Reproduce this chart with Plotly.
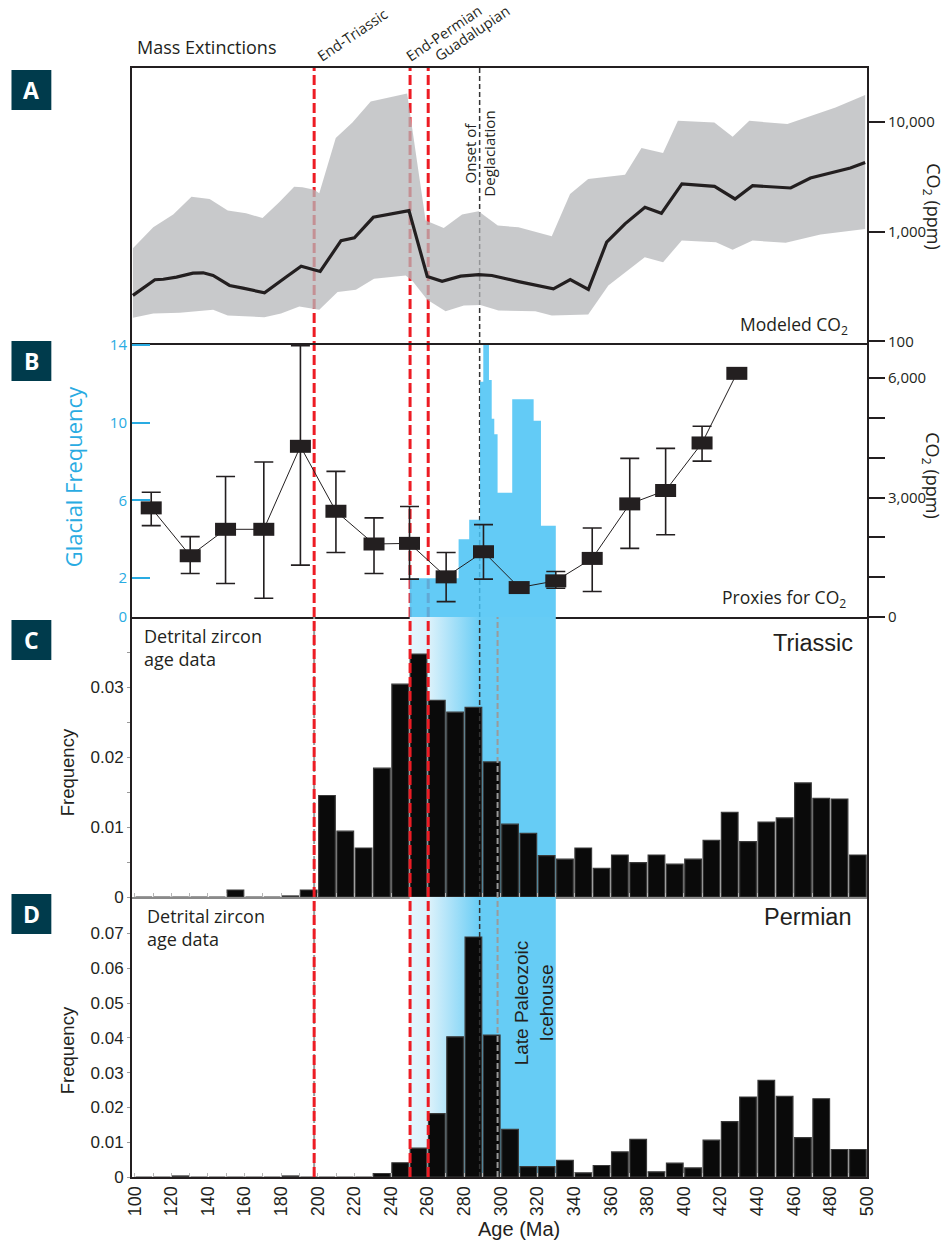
import numpy as np
import plotly.graph_objects as go

# ---------------- data ----------------
# Panel A: modeled CO2 (ppm), central estimate and uncertainty envelope
model_age = [99, 111, 115.6, 122.8, 131.8, 137.4, 142.8, 151.8, 159.1, 170.9, 182.7, 190.9, 201.3,
             212.7, 220.0, 230.3, 249.8, 259.8, 267.9, 278.0, 287.9, 295.1, 309.7, 328.7, 337.9,
             347.8, 357.8, 367.8, 378.7, 387.7, 398.9, 416.7, 427.9, 437.5, 458.3, 469.1, 490.9, 499]
model_co2 = [262, 364, 368, 385, 418, 421, 398, 323, 305, 277, 385, 484, 433,
             828, 877, 1349, 1552, 390, 353, 393, 406, 398, 350, 301, 366,
             297, 800, 1175, 1663, 1466, 2716, 2582, 1982, 2618, 2495, 3076, 3793, 4266]

band_hi_age = [99, 110.1, 121.0, 131.0, 140.9, 150.8, 160.8, 169.8, 178.9, 187.1, 191.6, 198.0, 200.8,
               209.8, 218.9, 228.9, 248.8, 258.9, 268.8, 278.8, 287.8, 298.3, 309.6, 327.8, 337.8,
               347.7, 367.8, 376.8, 388.6, 396.7, 416.6, 426.6, 435.7, 456.5, 482.8, 499]
band_hi_co2 = [705, 1094, 1429, 2080, 1982, 1552, 1466, 1330, 1849, 2564, 2529, 2400, 2230,
               7112, 9863, 15311, 18072, 1259, 1079, 1429, 1531, 1135, 1094, 906, 2198,
               3013, 3296, 5768, 5188, 10209, 9863, 7311, 10209, 9528, 13490, 17580]
band_lo_age = [99, 110.1, 124.6, 142.8, 150.8, 170.8, 179.9, 189.9, 200.8, 210.8, 220.8, 230.7,
               248.0, 251.5, 259.8, 269.8, 279.8, 288.8, 298.7, 318.8, 327.8, 347.7, 358.7,
               378.6, 388.6, 398.8, 417.5, 426.6, 437.5, 455.6, 474.6, 499]
band_lo_co2 = [164, 179, 182, 194, 172, 166, 179, 208, 194, 281, 295, 372,
               398, 359, 239, 188, 212, 214, 191, 188, 172, 176, 323,
               583, 526, 828, 800, 682, 828, 789, 940, 1057]

# Panel B: glacial frequency (step histogram) and CO2 proxies
glacial_edges = [250.2, 276.9, 282.7, 288.6, 290.4, 293.5, 295.0, 296.4, 298.2, 306.2, 317.9, 321.9, 330.0]
glacial_freq = [2.0, 4.0, 5.0, 12.1, 14.0, 12.2, 10.2, 9.4, 6.4, 11.2, 10.1, 4.7]

proxy_age = [109.0, 130.3, 149.6, 170.5, 190.5, 209.9, 230.7, 250.1, 270.1, 290.5, 310.0,
             330.0, 349.9, 370.4, 390.0, 409.9, 428.9]
proxy_co2 = [2740, 1538, 2202, 2202, 4286, 2655, 1833, 1849, 1008, 1639, 739,
             908, 1471, 2840, 3176, 4370, 6118]
proxy_hi = [3134, 2017, 3529, 3891, 6815, 3656, 2488, 2773, 1621, 2319, None,
            1143, 2235, 3983, 4235, 4790, None]
proxy_lo = [2294, 1092, 840, 471, 1303, 1621, 1092, 950, 386, 950, None,
            723, 639, 1723, 2067, 3915, None]

# Panels C and D: detrital zircon age frequencies, 10 Myr bins from 100 to 500 Ma
bin_edges = list(range(100, 510, 10))
triassic_freq = [0, 0, 0, 0, 0, 0.001, 0, 0, 0.00015, 0.001,
                 0.0145, 0.0094, 0.0070, 0.0184, 0.0304, 0.0347, 0.0281, 0.0264, 0.0271, 0.0193,
                 0.0104, 0.0091, 0.0059, 0.0054, 0.0070, 0.0041, 0.0060, 0.0049, 0.0060, 0.0047,
                 0.0054, 0.0081, 0.0121, 0.0079, 0.0107, 0.0113, 0.0163, 0.0141, 0.0140, 0.0060]
permian_freq = [0, 0, 0.0003, 0, 0, 0, 0, 0, 0.0003, 0,
                0, 0, 0, 0.0010, 0.0041, 0.0083, 0.0182, 0.0403, 0.0690, 0.0408,
                0.0137, 0.0030, 0.0030, 0.0048, 0.0012, 0.0033, 0.0072, 0.0108, 0.0015, 0.0040,
                0.0026, 0.0106, 0.0159, 0.0230, 0.0278, 0.0232, 0.0113, 0.0225, 0.0079, 0.0079]

# Events (Ma)
extinctions = {"End-Triassic": 198.0, "End-Permian": 250.4, "Guadalupian": 260.3}
onset_deglaciation = 288.4
grey_markers = [198.0, 298.2]
icehouse = (250.2, 330.0)

x_ticks = list(range(100, 510, 10))
x_labels = [str(v) if v % 20 == 0 else "" for v in x_ticks]

# ---------------- styling helpers ----------------
INK = "#231f20"
BLUE = "#29abe2"
RED = "#ed1c24"
MY = "Open Sans"
AR = "Liberation Sans"
L, R, T, B = 132, 870, 68, 1177


def fx(p):
    return (p - L) / (R - L)


def fy(p):
    return (B - p) / (B - T)


dA = [fy(343), 1.0]
dB = [fy(617), fy(343)]
dC = [fy(897), fy(617)]
dD = [0.0, fy(897)]

fig = go.Figure()

# Panel A
band_x = band_hi_age + band_lo_age[::-1]
band_y = band_hi_co2 + band_lo_co2[::-1]
fig.add_trace(go.Scatter(x=band_x, y=band_y, xaxis="x", yaxis="y", mode="lines",
                         fill="toself", fillcolor="rgba(182,183,186,0.75)",
                         line=dict(width=0), hoverinfo="skip"))
fig.add_trace(go.Scatter(x=model_age, y=model_co2, xaxis="x", yaxis="y", mode="lines",
                         line=dict(color=INK, width=3.2), hoverinfo="skip"))

# Panel B
fig.add_trace(go.Scatter(x=glacial_edges, y=glacial_freq + [glacial_freq[-1]], xaxis="x2", yaxis="y2",
                         mode="lines", line=dict(width=0, shape="hv"), fill="tozeroy",
                         fillcolor="rgba(72,194,244,0.85)", hoverinfo="skip"))
err_plus = [(h - c) if h is not None else 0 for h, c in zip(proxy_hi, proxy_co2)]
err_minus = [(c - l) if l is not None else 0 for l, c in zip(proxy_lo, proxy_co2)]
fig.add_trace(go.Scatter(x=proxy_age, y=proxy_co2, xaxis="x2", yaxis="y3", mode="lines",
                         line=dict(color=INK, width=1),
                         error_y=dict(type="data", array=err_plus, arrayminus=err_minus,
                                      color=INK, thickness=1.6, width=9.5),
                         hoverinfo="skip"))
fig.add_trace(go.Scatter(x=proxy_age, y=proxy_co2, xaxis="x2", yaxis="y3", mode="markers",
                         marker=dict(symbol="line-ew", size=15, color=INK,
                                     line=dict(color=INK, width=13)),
                         hoverinfo="skip"))

# Panels C and D: gradient icehouse band on the base axes, bars on overlaying axes above it
centers = (np.array(bin_edges[:-1]) + np.array(bin_edges[1:])) / 2.0
grad = dict(type="horizontal", start=icehouse[0], stop=icehouse[1],
            colorscale=[[0.0, "#e3f5fd"], [0.13, "#daf1fb"], [0.48, "#66ccf5"], [1.0, "#66ccf5"]])
for xa, ya, yb, top, freq in (("x3", "y4", "y6", 0.04, triassic_freq),
                              ("x4", "y5", "y7", 0.0805, permian_freq)):
    fig.add_trace(go.Scatter(x=[icehouse[0], icehouse[1], icehouse[1], icehouse[0], icehouse[0]],
                             y=[0, 0, top, top, 0], xaxis=xa, yaxis=ya, mode="lines",
                             fill="toself", fillgradient=grad, line=dict(width=0), hoverinfo="skip"))
    fig.add_trace(go.Bar(x=centers, y=freq, width=9.1, xaxis=xa, yaxis=yb,
                         marker=dict(color="#0a0a0a", line=dict(color="#3a3a3a", width=1.2)),
                         hoverinfo="skip"))

# ---------------- shapes ----------------
shapes = []


def vline(x, y0, y1, color, width, dash, layer):
    shapes.append(dict(type="line", xref="x", yref="paper", x0=x, x1=x, y0=y0, y1=y1,
                       line=dict(color=color, width=width, dash=dash), layer=layer))


for g in grey_markers:
    vline(g, 0, dC[1], "#9a9a9a", 2, "6px,3px", "above")
vline(onset_deglaciation, dC[1], 1, "#333333", 1.5, "5px,3px", "below")
vline(onset_deglaciation, 0, dC[1], "#333333", 1.5, "5px,3px", "above")
for name, xv in extinctions.items():
    vline(xv, dC[1], 1, RED, 3, "10px,4px", "below")
    vline(xv, 0, dC[1], RED, 3, "10px,4px", "above")

badges = [("A", 70), ("B", 341), ("C", 620), ("D", 894)]
annotations = []
for letter, top in badges:
    shapes.append(dict(type="rect", xref="paper", yref="paper", x0=fx(11), x1=fx(51),
                       y0=fy(top + 40), y1=fy(top), fillcolor="#003b4c", line=dict(width=0),
                       layer="above"))
    annotations.append(dict(text=letter, xref="paper", yref="paper", x=fx(31), y=fy(top + 20),
                            showarrow=False, font=dict(family=MY, size=23, color="white", weight="bold"),
                            xanchor="center", yanchor="middle"))


def ann(text, xp, yp, size=16, family=MY, color=INK, xanchor="center", yanchor="middle",
        angle=0, xref="paper", xval=None, align="center"):
    annotations.append(dict(text=text, xref=xref, yref="paper",
                            x=fx(xp) if xval is None else xval, y=fy(yp),
                            showarrow=False, textangle=angle, align=align,
                            font=dict(family=family, size=size, color=color),
                            xanchor=xanchor, yanchor=yanchor))


ann("Mass Extinctions", 135, 47, size=18, xanchor="left")
for name, xv in extinctions.items():
    offs = {"End-Triassic": 312, "End-Permian": 400, "Guadalupian": 429}[name]
    ann(name, offs, 68, size=14.5, xanchor="left", yanchor="bottom", angle=-34)
ann("Onset of<br>Deglaciation", 0, 154, size=15, angle=-90, xref="x", xval=onset_deglaciation)
ann("Modeled CO<sub>2</sub>", 853, 325, size=17.5, xanchor="right")
ann("Proxies for CO<sub>2</sub>", 851, 598, size=17.5, xanchor="right")
ann("CO<sub>2</sub> (ppm)", 935, 207, size=18, angle=90)
ann("CO<sub>2</sub> (ppm)", 935, 476, size=18, angle=90)
ann("Glacial Frequency", 73, 477, size=22, color=BLUE, angle=-90)
ann("Detrital zircon<br>age data", 142, 622, size=18, xanchor="left", yanchor="top", align="left")
ann("Detrital zircon<br>age data", 145, 902, size=18, xanchor="left", yanchor="top", align="left")
ann("Triassic", 858, 643, size=23.5, family=AR, xanchor="right")
ann("Permian", 857, 917, size=23.5, family=AR, xanchor="right")
ann("Frequency", 67, 772, size=18.5, family=AR, angle=-90)
ann("Frequency", 67, 1050, size=18.5, family=AR, angle=-90)
ann("Late Paleozoic<br>Icehouse", 536, 1003, size=19, family=AR, angle=-90)
ann("Age (Ma)", 521, 1229, size=20, family=AR)

# ---------------- axes ----------------
base_x = dict(range=[98.5, 500], domain=[0, 1], showgrid=False, zeroline=False, showline=True,
              linecolor=INK, linewidth=2)
ytick_font = dict(family=MY, size=15, color=INK)
hidden_y = dict(showticklabels=False, ticks="", showline=False, showgrid=False, zeroline=False)

fig.update_layout(
    width=947, height=1240,
    margin=dict(l=L, r=947 - R, t=T, b=1240 - B),
    paper_bgcolor="white", plot_bgcolor="white",
    showlegend=False, barmode="overlay",
    shapes=shapes, annotations=annotations,
    xaxis=dict(base_x, anchor="y", mirror=True, showticklabels=False, ticks=""),
    yaxis=dict(domain=dA, type="log", range=[np.log10(100) - 0.015, 4.49], side="right",
               anchor="x", tickvals=[100, 1000, 10000], ticktext=["100", "1,000", "10,000"],
               ticks="outside", ticklen=16, tickwidth=1.5, tickcolor=INK, tickfont=ytick_font,
               showline=True, mirror=True, linecolor=INK, linewidth=2, showgrid=False, zeroline=False),
    xaxis2=dict(base_x, anchor="y2", mirror=False, showticklabels=False, ticks=""),
    yaxis2=dict(domain=dB, range=[0, 14.1], anchor="x2", side="left",
                tickvals=[0, 2, 6, 10, 14], ticks="inside", ticklen=18, tickwidth=2, tickcolor=BLUE,
                tickfont=dict(family=MY, size=15, color=BLUE),
                showline=True, linecolor=INK, linewidth=2, showgrid=False, zeroline=False),
    yaxis3=dict(overlaying="y2", anchor="x2", side="right", range=[0, 6880],
                tickvals=[0, 1000, 2000, 3000, 4000, 5000, 6000],
                ticktext=["0", "", "", "3,000", "", "", "6,000"],
                ticks="outside", ticklen=16, tickwidth=1.5, tickcolor=INK, tickfont=ytick_font,
                showline=True, linecolor=INK, linewidth=2, showgrid=False, zeroline=False),
    xaxis3=dict(base_x, anchor="y4", mirror=False, showticklabels=False, ticks="inside",
                tickvals=x_ticks, ticklen=4, tickcolor="#b5b5b5", linecolor="#8a8a8a", linewidth=1.6),
    yaxis4=dict(domain=dC, range=[0, 0.04], anchor="x3",
                tickvals=[0, 0.005, 0.01, 0.015, 0.02, 0.025, 0.03, 0.035],
                ticktext=["0", "", "0.01", "", "0.02", "", "0.03", ""],
                ticks="outside", ticklen=3, tickcolor="#9a9a9a",
                tickfont=dict(family=AR, size=17, color=INK),
                showline=True, mirror=True, linecolor=INK, linewidth=2, showgrid=False, zeroline=False),
    yaxis6=dict(hidden_y, overlaying="y4", anchor="x3", range=[0, 0.04]),
    xaxis4=dict(base_x, anchor="y5", mirror=False, tickvals=x_ticks, ticktext=x_labels, tickangle=-90,
                ticks="inside", ticklen=4, tickcolor="#b5b5b5",
                tickfont=dict(family=AR, size=18, color=INK)),
    yaxis5=dict(domain=dD, range=[0, 0.0805], anchor="x4",
                tickvals=[0, 0.01, 0.02, 0.03, 0.04, 0.05, 0.06, 0.07],
                ticktext=["0", "0.01", "0.02", "0.03", "0.04", "0.05", "0.06", "0.07"],
                ticks="outside", ticklen=3, tickcolor="#9a9a9a",
                tickfont=dict(family=AR, size=17, color=INK),
                showline=True, mirror=True, linecolor=INK, linewidth=2, showgrid=False, zeroline=False),
    yaxis7=dict(hidden_y, overlaying="y5", anchor="x4", range=[0, 0.0805]),
)

fig.write_html("out.html", config={"displayModeBar": False},
               post_script="document.body.style.margin='0px';")
